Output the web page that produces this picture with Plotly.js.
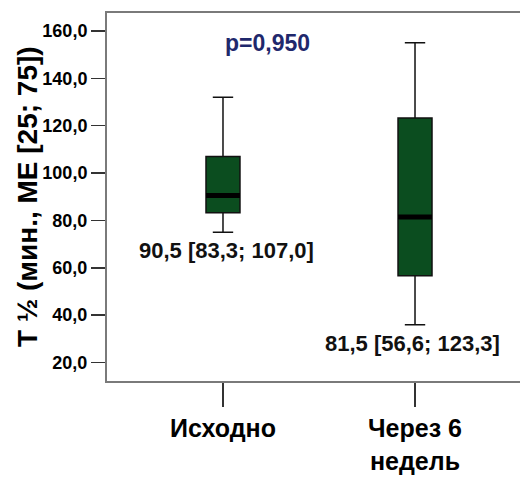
<!DOCTYPE html>
<html>
<head>
<meta charset="utf-8">
<script src="https://cdn.plot.ly/plotly-3.0.1.min.js"></script>
<style>
  html, body { margin: 0; padding: 0; background: #fff; overflow: hidden; }
  #chart { width: 540px; height: 477px; }
</style>
</head>
<body>
<div id="chart"></div>
<script>
// Half-life (T 1/2, min) before and after 6 weeks: median with interquartile range
const categories = ['Исходно', 'Через 6<br>недель'];
const lowerWhisker = [75.0, 36.0];
const q1Values = [83.3, 56.6];
const medianValues = [90.5, 81.5];
const q3Values = [107.0, 123.3];
const upperWhisker = [132.0, 155.0];
const yTickValues = [20, 40, 60, 80, 100, 120, 140, 160];
const pValueText = 'p=0,950';

const FONT = 'Liberation Sans, Arial, sans-serif';
const BOX_WIDTH = 0.177;
const positions = categories.map((_, i) => i);

function fmt(v) {
  return v.toFixed(1).replace('.', ',');
}

const traces = categories.map((name, i) => ({
  type: 'box',
  x: [positions[i]],
  q1: [q1Values[i]],
  median: [medianValues[i]],
  q3: [q3Values[i]],
  lowerfence: [lowerWhisker[i]],
  upperfence: [upperWhisker[i]],
  width: BOX_WIDTH,
  whiskerwidth: 0.6,
  fillcolor: '#0b4d1f',
  line: { color: '#111', width: 1.5 },
  boxpoints: false,
  hoverinfo: 'skip',
  showlegend: false
}));

// thick median bars drawn over each box
categories.forEach((name, i) => {
  traces.push({
    type: 'scatter',
    mode: 'lines',
    x: [positions[i] - BOX_WIDTH / 2, positions[i] + BOX_WIDTH / 2],
    y: [medianValues[i], medianValues[i]],
    line: { color: '#000', width: 5 },
    hoverinfo: 'skip',
    showlegend: false
  });
});

// "median [Q1; Q3]" labels under each lower whisker
const labelShift = [4, -3];
const annotations = categories.map((name, i) => ({
  x: positions[i],
  y: lowerWhisker[i],
  xref: 'x',
  yref: 'y',
  text: '<b>' + fmt(medianValues[i]) + ' [' + fmt(q1Values[i]) + '; ' + fmt(q3Values[i]) + ']</b>',
  showarrow: false,
  yanchor: 'top',
  yshift: -4,
  xshift: labelShift[i],
  font: { family: FONT, size: 22, color: '#111' }
}));

annotations.push({
  x: 0.234,
  y: 155,
  xref: 'x',
  yref: 'y',
  text: '<b>' + pValueText + '</b>',
  showarrow: false,
  font: { family: FONT, size: 23, color: '#1f286c' }
});

annotations.push({
  x: -80 / 424,
  y: 0.5,
  xref: 'paper',
  yref: 'paper',
  xanchor: 'center',
  yanchor: 'middle',
  text: '<b>T ½ (мин., ME [25; 75])</b>',
  textangle: -90,
  showarrow: false,
  font: { family: FONT, size: 28, color: '#000' }
});

const layout = {
  width: 540,
  height: 477,
  margin: { l: 107, r: 9, t: 13, b: 96 },
  paper_bgcolor: '#fff',
  plot_bgcolor: '#fff',
  separators: ', ',
  xaxis: {
    range: [-0.604, 1.604],
    tickvals: positions,
    ticktext: categories.map(c => '<b>' + c + '</b>'),
    ticks: 'outside',
    ticklen: 24,
    tickwidth: 1.5,
    tickcolor: '#333',
    showline: true,
    linecolor: '#7a7a7a',
    linewidth: 2,
    mirror: true,
    showgrid: false,
    zeroline: false,
    tickfont: { family: FONT, size: 25, color: '#000' }
  },
  yaxis: {
    range: [12.2, 167.6],
    tickvals: yTickValues,
    tickformat: '.1f',
    ticks: 'outside',
    ticklen: 14,
    tickwidth: 1.5,
    tickcolor: '#333',
    showline: true,
    linecolor: '#7a7a7a',
    linewidth: 2,
    mirror: true,
    showgrid: false,
    zeroline: false,
    tickfont: { family: FONT, size: 18, color: '#000', weight: 'bold' }
  },
  annotations: annotations
};

Plotly.newPlot('chart', traces, layout, { staticPlot: true, displayModeBar: false });
</script>
</body>
</html>
